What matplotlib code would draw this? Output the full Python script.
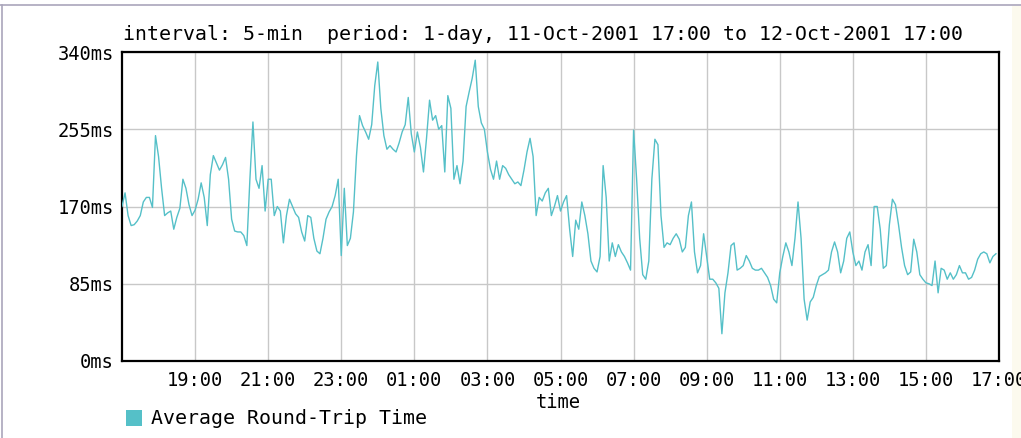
import numpy as np
import pandas as pd
import matplotlib
matplotlib.use('Agg')
import matplotlib.pyplot as plt
import matplotlib.dates as mdates
from matplotlib.patches import Rectangle
from matplotlib.lines import Line2D

# 5-min average round-trip time (ms), 11-Oct-2001 17:00 .. 12-Oct-2001 16:55
rtt = [
    170, 185, 160, 149, 150, 154, 160, 175, 180, 180,
    169, 248, 225, 190, 160, 163, 165, 145, 158, 168,
    200, 190, 172, 160, 166, 178, 196, 180, 149, 205,
    226, 218, 210, 216, 224, 200, 156, 143, 142, 142,
    138, 127, 200, 263, 200, 190, 215, 165, 200, 200,
    160, 170, 165, 130, 160, 178, 170, 162, 158, 142,
    132, 160, 158, 135, 121, 118, 135, 156, 164, 170,
    182, 200, 116, 190, 127, 135, 164, 226, 270, 259,
    252, 244, 260, 303, 329, 278, 248, 233, 237, 233,
    230, 240, 252, 260, 290, 250, 230, 252, 235, 208,
    245, 287, 265, 270, 255, 259, 208, 292, 278, 200,
    215, 195, 220, 280, 296, 311, 331, 280, 262, 255,
    230, 211, 200, 220, 200, 215, 212, 205, 200, 195,
    197, 193, 210, 230, 245, 225, 160, 180, 176, 185,
    190, 160, 170, 182, 165, 175, 182, 145, 115, 155,
    145, 175, 160, 140, 110, 102, 98, 115, 215, 180,
    110, 130, 115, 128, 120, 115, 108, 100, 254, 200,
    135, 95, 90, 110, 200, 244, 238, 160, 125, 130,
    128, 135, 140, 134, 120, 125, 160, 175, 120, 97,
    105, 140, 115, 90, 90, 86, 80, 30, 75, 97,
    127, 130, 100, 102, 105, 116, 110, 102, 100, 100,
    102, 97, 92, 83, 68, 64, 97, 115, 130, 120,
    105, 135, 175, 135, 68, 45, 65, 70, 83, 93,
    95, 97, 100, 120, 131, 120, 97, 110, 135, 142,
    120, 105, 110, 100, 120, 128, 105, 170, 170, 145,
    102, 105, 150, 178, 172, 150, 125, 105, 95, 98,
    134, 120, 95, 90, 86, 85, 83, 110, 75, 102,
    100, 90, 97, 90, 95, 105, 97, 97, 90, 92,
    100, 112, 118, 120, 118, 108, 115, 118,
]
start = pd.Timestamp('2001-10-11 17:00')
end = pd.Timestamp('2001-10-12 17:00')
times = pd.date_range(start, periods=len(rtt), freq='5min')
x_ticks = pd.date_range('2001-10-11 19:00', end, freq='2h')
y_ticks = [0, 85, 170, 255, 340]
y_labels = ['0ms', '85ms', '170ms', '255ms', '340ms']
title = 'interval: 5-min  period: 1-day, 11-Oct-2001 17:00 to 12-Oct-2001 17:00'
legend_label = 'Average Round-Trip Time'

line_color = '#55c0c8'
mono = 'DejaVu Sans Mono'
fs = 14.3
W, H = 1021, 438

fig = plt.figure(figsize=(W / 100, H / 100), dpi=100)
fig.patch.set_facecolor('white')

# cream strip on the right and thin outer frame lines
fig.add_artist(Rectangle((1012 / W, 0), 9 / W, 1 - 6 / H, transform=fig.transFigure,
                         facecolor='#fcfaee', edgecolor='none', zorder=0))
fig.add_artist(Line2D([0, 1], [1 - 5 / H, 1 - 5 / H], transform=fig.transFigure,
                      color='#aaa6bb', lw=1.2))
fig.add_artist(Line2D([2 / W, 2 / W], [0, 1 - 5 / H], transform=fig.transFigure,
                      color='#aaa6bb', lw=1.2))

ax = fig.add_axes([122 / W, (H - 361) / H, (999 - 122) / W, (361 - 52) / H])
ax.plot(times, rtt, color=line_color, lw=1.0, zorder=3)

ax.set_ylim(0, 340)
ax.set_xlim(start, end)
ax.set_yticks(y_ticks)
ax.set_yticklabels(y_labels)
ax.set_xticks(x_ticks)
ax.xaxis.set_major_formatter(mdates.DateFormatter('%H:%M'))
ax.grid(True, color='#c8c8c8', lw=1.0, zorder=1)
ax.tick_params(length=0, labelsize=13.5)
ax.tick_params(axis='x', pad=7)
ax.tick_params(axis='y', pad=6)
for lab in ax.get_xticklabels() + ax.get_yticklabels():
    lab.set_fontfamily(mono)
for sp in ax.spines.values():
    sp.set_color('black')
    sp.set_linewidth(1.6)

fig.text(123 / W, 1 - 34 / H, title, ha='left', va='center', fontsize=fs, family=mono)
fig.text(558 / W, 1 - 393 / H, 'time', ha='center', va='top', fontsize=13.5, family=mono)

fig.add_artist(Rectangle((126 / W, 1 - 426 / H), 16 / W, 16 / H, transform=fig.transFigure,
                         facecolor=line_color, edgecolor='none'))
fig.text(151 / W, 1 - 418 / H, legend_label, ha='left', va='center', fontsize=fs, family=mono)

fig.savefig('out.png', dpi=100)
